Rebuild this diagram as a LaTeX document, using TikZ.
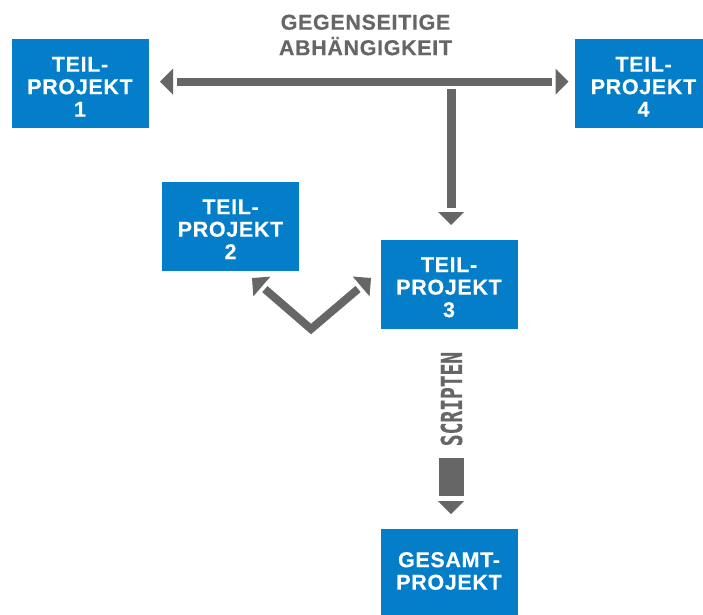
\documentclass[tikz,border=0pt]{standalone}
\usepackage{fontspec}
\setmainfont{Liberation Sans}
\newfontfamily\boxfont{Liberation Sans}[LetterSpace=3, BoldFeatures={FakeBold=0.4}]
\newfontfamily\scrfont{DejaVu Sans Mono}[BoldFeatures={FakeBold=0.5}]
\usetikzlibrary{calc}
\definecolor{cblue}{RGB}{4,126,201}
\definecolor{cgray}{RGB}{102,102,102}
\newcommand\ahead[3][13pt]{\fill[cgray] (#2) -- ($(#2)!#1!(#3)!13pt!90:(#3)$) -- ($(#2)!#1!(#3)!13pt!-90:(#3)$) -- cycle;}
\begin{document}
\begin{tikzpicture}[x=1pt,y=-1pt,
  box/.style={fill=cblue, draw=none, minimum width=137pt, minimum height=89pt, inner sep=0pt},
  btext/.style={text=white, font=\boxfont\bfseries\fontsize{21.5}{22.5}\selectfont, align=center, inner sep=0pt},
  glabel/.style={text=cgray, font=\boxfont\bfseries\fontsize{21.5}{25.5}\selectfont, align=center, inner sep=0pt},
  conn/.style={draw=cgray, line width=8pt}]
\useasboundingbox (0,0) rectangle (703,614);
\fill[white] (0,0) rectangle (703,614);
\clip (0,0) rectangle (703,614);
% boxes
\node[box] (b1) at (80,83.5) {};
\node[box] (b4) at (643.5,83.5) {};
\node[box] (b2) at (230.5,226) {};
\node[box] (b3) at (449,284) {};
\node[box] (b5) at (449,573.5) {};
\node[btext] (t1) at ([yshift=-3.3pt]b1.center) {TEIL-\\PROJEKT\\1};
\node[btext] (t4) at ([yshift=-3.3pt]b4.center) {TEIL-\\PROJEKT\\4};
\node[btext] (t2) at ([yshift=-3.3pt]b2.center) {TEIL-\\PROJEKT\\2};
\node[btext] (t3) at ([yshift=-3.3pt]b3.center) {TEIL-\\PROJEKT\\3};
\node[btext] (t5) at ([yshift=2.5pt]b5.center) {GESAMT-\\PROJEKT};
\node[glabel] (lab) at (365.5,35) {GEGENSEITIGE\\ABHÄNGIGKEIT};
% horizontal double arrow
\coordinate (h1) at (160,81.7);
\coordinate (h4) at (568.5,81.7);
\draw[conn] ($(h1)!17pt!(h4)$) -- ($(h4)!17pt!(h1)$);
\ahead{h1}{h4}
\ahead{h4}{h1}
% vertical arrow to part 3
\coordinate (vtop) at (451,89);
\coordinate (v3) at (451,225);
\draw[conn, line width=9pt] (vtop) -- ($(v3)!17pt!(vtop)$);
\ahead{v3}{vtop}
% V connector between part 2 and part 3
\coordinate (p2) at (252,278);
\coordinate (p3) at (371,278);
\coordinate (vb) at (311,329);
\draw[conn, line join=miter] ($(p2)!17pt!(vb)$) -- (vb) -- ($(p3)!17pt!(vb)$);
\ahead{p2}{vb}
\ahead{p3}{vb}
% scripting arrow
\node[text=cgray, rotate=90, inner sep=0pt, font=\scrfont\bfseries\fontsize{28.8}{30}\selectfont] (scr) at (451.5,399) {\scalebox{0.68}[1]{SCRIPTEN}};
\coordinate (s1) at (451,458);
\coordinate (s2) at (451,514);
\draw[draw=cgray, line width=25pt] (s1) -- ($(s2)!18pt!(s1)$);
\ahead{s2}{s1}
\end{tikzpicture}
\end{document}
